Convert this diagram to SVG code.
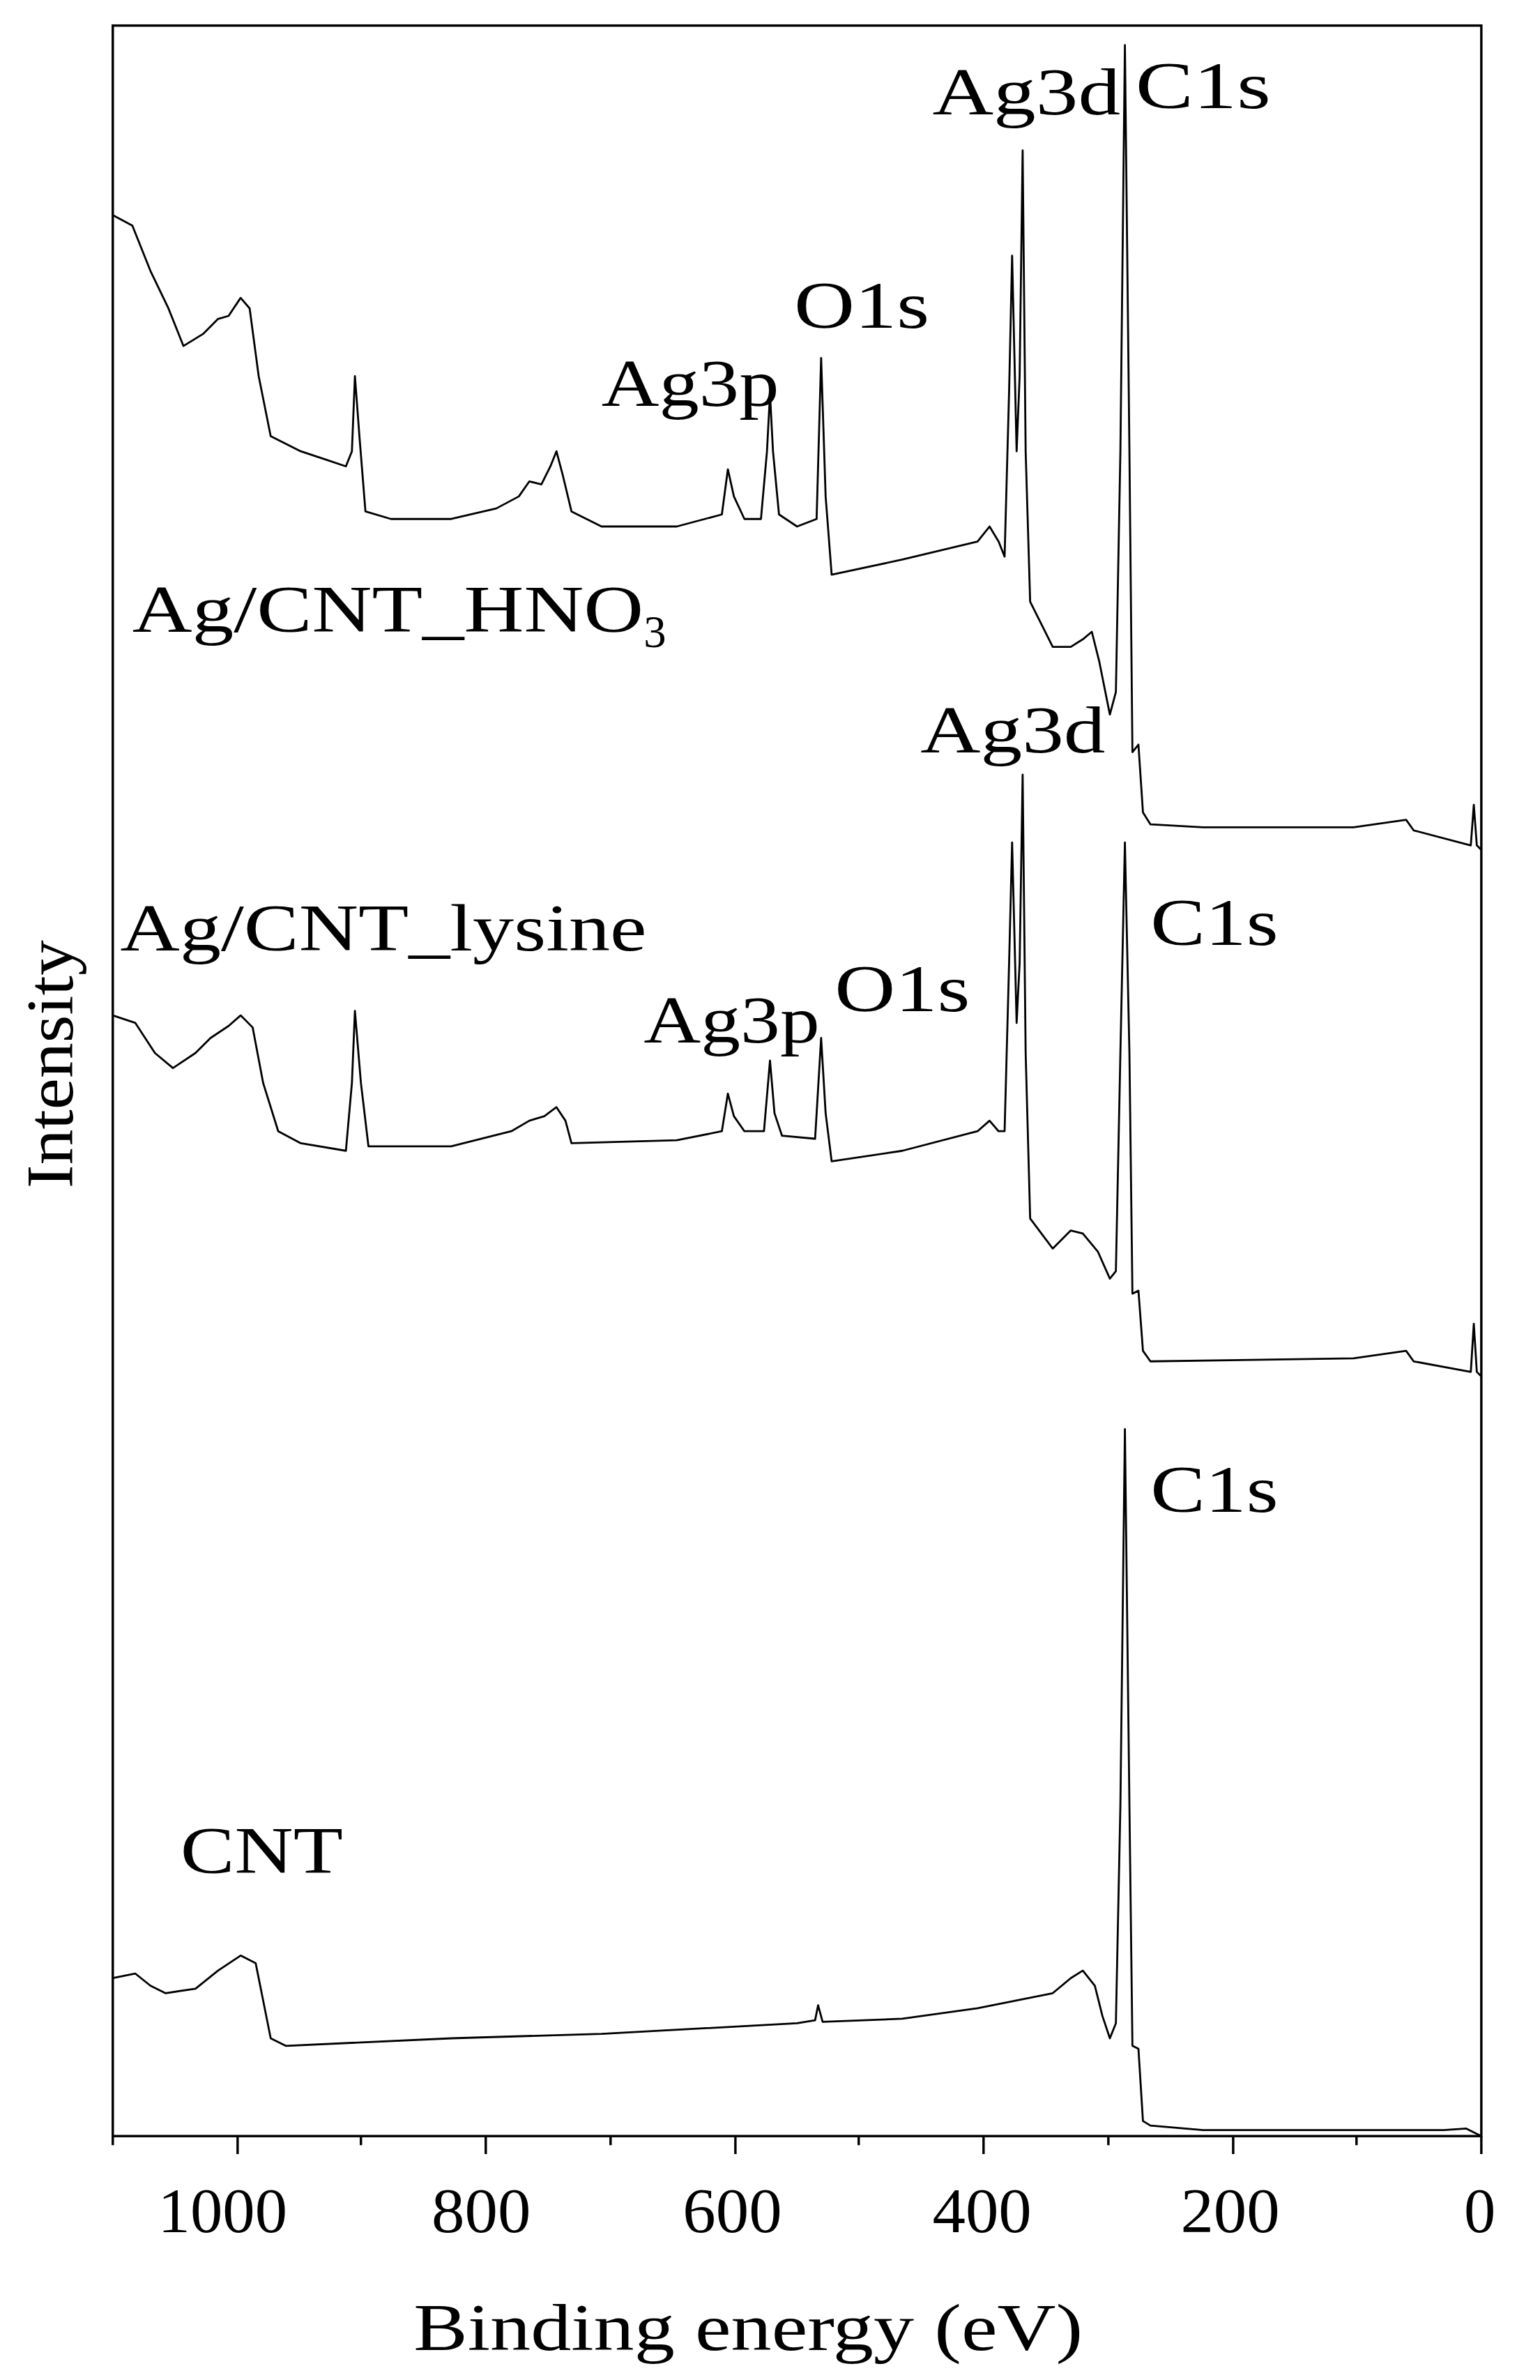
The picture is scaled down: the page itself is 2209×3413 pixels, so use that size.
<svg xmlns="http://www.w3.org/2000/svg" width="2209" height="3413" viewBox="0 0 2209 3413">
<style>
.ax{fill:none;stroke:#000;stroke-width:1.6}
.sp{fill:none;stroke:#000;stroke-width:1.3;stroke-linejoin:round}
.t{font-family:"Liberation Serif",serif;font-size:44px;fill:#000}
.tk{font-family:"Liberation Serif",serif;font-size:42px;fill:#000;text-anchor:middle}
</style>
<rect width="2209" height="3413" fill="#fff"/>
<g transform="scale(2.1572)">
<g id="axes">
<rect class="ax" x="75" y="17" width="910" height="1403"/>
<path class="ax" d="M158,1420v12M323,1420v12M489,1420v12M654,1420v12M820,1420v12M985,1420v12M240,1420v6M406,1420v6M571,1420v6M737,1420v6M902,1420v6M75,1420v6"/>
<text class="tk" x="148" y="1484" textLength="86" lengthAdjust="spacingAndGlyphs">1000</text>
<text class="tk" x="320" y="1484" textLength="66" lengthAdjust="spacingAndGlyphs">800</text>
<text class="tk" x="487" y="1484" textLength="66" lengthAdjust="spacingAndGlyphs">600</text>
<text class="tk" x="653" y="1484" textLength="66" lengthAdjust="spacingAndGlyphs">400</text>
<text class="tk" x="818" y="1484" textLength="66" lengthAdjust="spacingAndGlyphs">200</text>
<text class="tk" x="984" y="1484">0</text>
<text class="t" x="275" y="1562" textLength="445" lengthAdjust="spacingAndGlyphs">Binding energy (eV)</text>
<text class="t" transform="translate(48,790) rotate(-90)" textLength="165" lengthAdjust="spacingAndGlyphs">Intensity</text>
</g>
<g id="connectors">
<path id="hno3" class="sp" d="M75,143 L88,150 L100,180 L112,205 L122,230 L135,222 L145,212 L152,210 L160,198 L166,205 L172,250 L180,290 L200,300 L215,305 L230,310 L234,300 L236,250 L239,290 L243,340 L260,345 L300,345 L330,338 L345,330 L352,320 L360,322 L366,310 L370,300 L374,315 L380,340 L400,350 L450,350 L480,342 L484,312 L488,330 L495,345 L506,345 L510,300 L512,262 L514,300 L518,342 L530,350 L543,345 L546,238 L549,330 L553,382 L600,372 L650,360 L658,350 L664,360 L668,370 L671,260 L673,170 L676,300 L678,250 L680,100 L682,300 L685,400 L700,430 L712,430 L720,425 L726,420 L731,440 L738,475 L742,460 L745,300 L748,30 L751,300 L753,500 L757,495 L760,540 L765,548 L800,550 L900,550 L935,545 L940,552 L978,562 L980,535 L982,562 L985,565"/>
<path id="lysine" class="sp" d="M75,675 L90,680 L103,700 L115,710 L130,700 L140,690 L152,682 L160,675 L168,683 L175,720 L185,752 L200,760 L230,765 L234,720 L236,672 L240,720 L245,762 L300,762 L340,752 L352,745 L362,742 L370,736 L376,745 L380,760 L450,758 L480,752 L484,727 L488,742 L495,752 L508,752 L512,705 L515,740 L520,755 L542,757 L546,690 L549,740 L553,772 L600,765 L650,752 L658,745 L664,752 L668,752 L671,640 L673,560 L676,680 L678,640 L680,515 L682,700 L685,810 L700,830 L712,818 L720,820 L730,832 L738,850 L742,845 L745,700 L748,560 L751,700 L753,860 L757,858 L760,898 L765,905 L900,903 L935,898 L940,905 L978,912 L980,880 L982,912 L985,915"/>
<path id="cnt" class="sp" d="M75,1315 L90,1312 L100,1320 L110,1325 L130,1322 L145,1310 L160,1300 L170,1305 L175,1330 L180,1355 L190,1360 L300,1355 L400,1352 L530,1345 L542,1343 L544,1333 L547,1344 L600,1342 L650,1335 L700,1325 L712,1315 L720,1310 L728,1320 L733,1340 L738,1355 L742,1345 L745,1200 L748,950 L751,1200 L753,1360 L757,1362 L760,1410 L765,1413 L800,1416 L960,1416 L975,1415 L985,1420"/>
</g>
<g id="labels">
<text class="t" x="620" y="76" textLength="125" lengthAdjust="spacingAndGlyphs">Ag3d</text>
<text class="t" x="755" y="72" textLength="90" lengthAdjust="spacingAndGlyphs">C1s</text>
<text class="t" x="528" y="218" textLength="90" lengthAdjust="spacingAndGlyphs">O1s</text>
<text class="t" x="400" y="270" textLength="118" lengthAdjust="spacingAndGlyphs">Ag3p</text>
<text class="t" x="88" y="420"><tspan textLength="340" lengthAdjust="spacingAndGlyphs">Ag/CNT_HNO</tspan><tspan font-size="30" dy="10">3</tspan></text>
<text class="t" x="612" y="500" textLength="123" lengthAdjust="spacingAndGlyphs">Ag3d</text>
<text class="t" x="765" y="628" textLength="85" lengthAdjust="spacingAndGlyphs">C1s</text>
<text class="t" x="80" y="632" textLength="350" lengthAdjust="spacingAndGlyphs">Ag/CNT_lysine</text>
<text class="t" x="428" y="693" textLength="117" lengthAdjust="spacingAndGlyphs">Ag3p</text>
<text class="t" x="555" y="672" textLength="90" lengthAdjust="spacingAndGlyphs">O1s</text>
<text class="t" x="765" y="1005" textLength="85" lengthAdjust="spacingAndGlyphs">C1s</text>
<text class="t" x="120" y="1245" textLength="108" lengthAdjust="spacingAndGlyphs">CNT</text>
</g>
</g>
</svg>
